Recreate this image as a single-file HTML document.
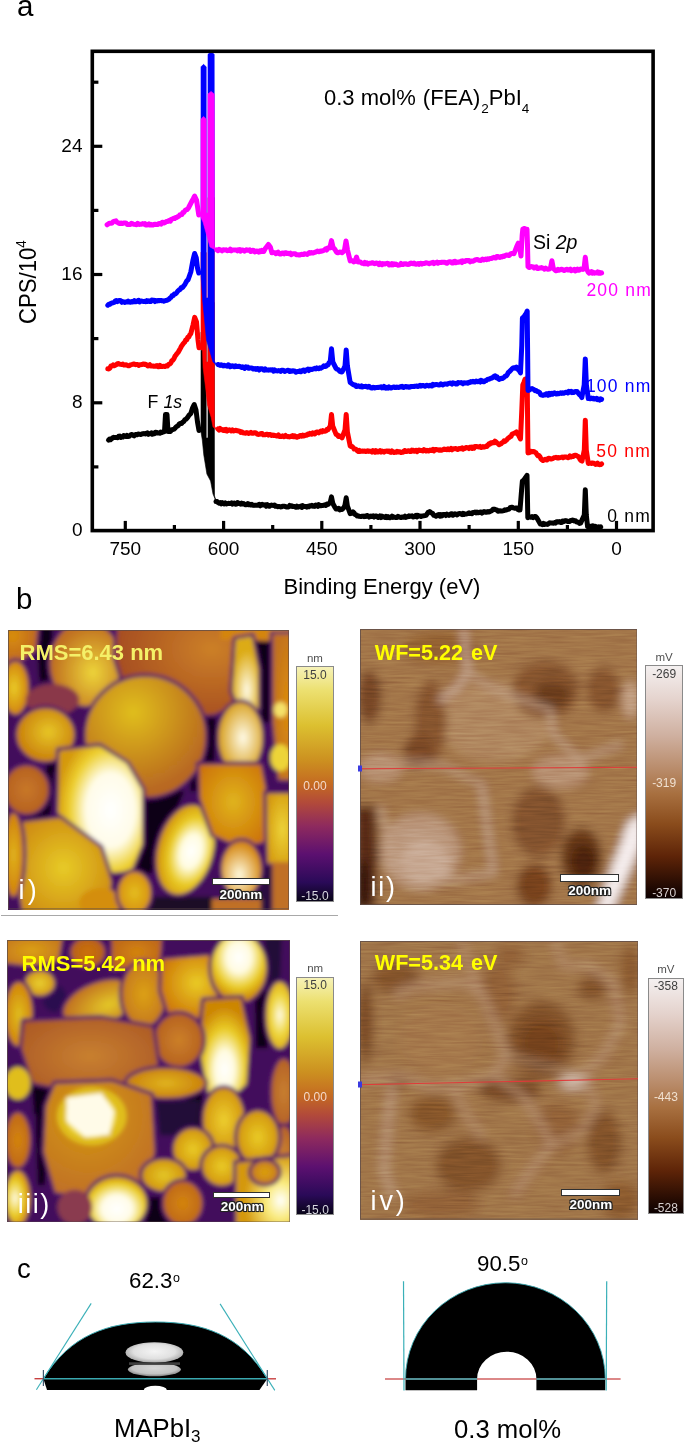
<!DOCTYPE html>
<html><head><meta charset="utf-8"><style>
html,body{margin:0;padding:0;background:#fff;}
body{width:685px;height:1442px;position:relative;overflow:hidden;font-family:"Liberation Sans", sans-serif;}
</style></head><body>
<svg width="685" height="610" viewBox="0 0 685 610" style="position:absolute;left:0;top:0"><polygon points="201.0,432.0 201.0,332.5 203.5,330.0 206.2,332.5 206.2,438.0 208.0,438.0 208.0,302.5 211.1,300.0 214.2,302.5 214.5,496.0 217.0,503.5 213.0,494.0 210.6,481.0 206.9,474.0 203.8,455.0 202.3,440.0 201.0,432.0" fill="#000" stroke="#000" stroke-width="0.6" stroke-linejoin="round"/><path d="M108.5,440.2 L109.5,439.0 L110.5,439.7 L111.5,438.9 L112.5,437.9 L113.5,437.3 L114.6,437.6 L115.6,437.4 L116.6,437.6 L117.6,437.7 L118.7,436.3 L119.7,436.1 L120.7,437.4 L121.8,436.5 L122.8,437.0 L123.8,435.5 L124.9,436.1 L125.9,436.5 L126.9,435.4 L127.9,436.6 L129.0,436.4 L130.0,435.5 L131.0,434.6 L132.0,434.4 L133.1,435.3 L134.1,435.9 L135.1,434.8 L136.1,434.4 L137.1,434.7 L138.1,433.9 L139.2,434.1 L140.2,434.4 L141.2,434.4 L142.2,433.8 L143.2,433.7 L144.2,433.6 L145.3,433.9 L146.3,433.5 L147.3,432.9 L148.3,434.3 L149.3,433.7 L150.3,433.8 L151.4,432.8 L152.4,434.2 L153.4,433.2 L154.4,433.7 L155.5,432.3 L156.5,432.5 L157.5,433.1 L158.6,432.9 L159.6,433.2 L160.6,432.1 L161.7,432.7 L162.7,432.0 L164.5,431.5 L165.5,414.5 L167.0,414.5 L168.0,431.6 L169.7,431.6 L170.8,431.1 L171.8,429.7 L172.8,429.5 L173.9,429.2 L174.9,428.4 L176.0,427.0 L177.1,426.2 L178.2,425.6 L179.3,423.8 L180.5,423.4 L181.6,423.6 L182.7,422.1 L183.8,421.5 L184.8,419.8 L185.8,419.3 L186.8,418.4 L187.8,417.2 L188.8,415.5 L189.8,414.4 L190.8,413.4 L192.5,408.0 L194.2,404.5 L196.0,410.0 L197.5,422.0 L199.0,430.5" fill="none" stroke="#000" stroke-width="5" stroke-linejoin="round" stroke-linecap="round"/><path d="M216.0,501.5 L217.1,501.6 L218.2,502.6 L219.3,503.2 L220.3,502.6 L221.3,503.8 L222.3,502.7 L223.3,503.3 L224.3,504.0 L225.3,503.0 L226.4,504.0 L227.4,503.6 L228.4,503.3 L229.4,503.4 L230.4,503.4 L231.4,502.9 L232.4,504.1 L233.4,503.2 L234.4,503.1 L235.5,504.2 L236.5,504.0 L237.5,502.6 L238.5,503.1 L239.6,503.6 L240.6,504.2 L241.6,503.2 L242.7,504.0 L243.7,503.6 L244.7,504.5 L245.8,504.8 L246.8,504.6 L247.8,503.6 L248.8,504.7 L249.9,504.2 L250.9,505.0 L251.9,504.4 L253.0,505.2 L254.0,505.4 L255.0,505.2 L256.0,505.3 L257.1,505.3 L258.1,505.0 L259.1,504.3 L260.2,505.8 L261.2,505.0 L262.2,504.2 L263.3,505.0 L264.3,505.1 L265.3,504.8 L266.3,506.2 L267.4,504.7 L268.4,505.5 L269.4,506.3 L270.4,505.7 L271.4,505.0 L272.5,505.4 L273.5,505.6 L274.5,505.1 L275.5,506.3 L276.5,506.1 L277.5,506.7 L278.5,506.5 L279.5,506.5 L280.6,506.9 L281.6,506.8 L282.6,506.3 L283.6,506.2 L284.6,506.2 L285.6,506.7 L286.6,507.0 L287.7,506.9 L288.7,506.9 L289.7,505.5 L290.7,506.2 L291.7,505.7 L292.7,506.6 L293.7,506.6 L294.7,506.6 L295.8,507.2 L296.8,506.1 L297.8,507.1 L298.8,506.7 L299.8,506.8 L300.8,506.1 L301.8,507.4 L302.8,505.7 L303.8,506.4 L304.8,506.4 L305.8,506.5 L306.8,507.1 L307.8,506.3 L308.8,506.8 L309.8,505.7 L310.8,506.0 L311.8,505.3 L312.8,506.2 L313.8,505.7 L314.8,506.3 L315.8,505.0 L316.8,505.6 L317.8,506.4 L318.8,504.7 L319.8,505.5 L320.8,505.7 L321.9,505.5 L322.9,505.5 L323.9,505.1 L324.9,504.8 L325.9,505.5 L327.0,504.1 L328.0,504.4 L329.1,503.6 L330.3,502.0 L331.5,496.9 L332.7,503.0 L333.8,505.3 L335.0,507.4 L336.1,509.0 L337.3,509.1 L338.5,508.3 L339.6,509.8 L340.8,509.0 L342.0,509.5 L343.0,508.5 L344.0,507.4 L345.0,505.0 L346.2,497.8 L347.4,506.0 L350.2,513.7 L351.6,513.3 L353.0,511.9 L354.0,512.8 L355.0,514.6 L356.0,514.8 L357.0,516.0 L358.0,515.7 L359.0,516.2 L360.0,516.4 L361.0,516.5 L362.0,516.3 L363.0,516.1 L364.0,516.7 L365.0,516.0 L366.0,516.5 L367.0,515.5 L368.0,515.8 L369.0,517.1 L370.0,516.5 L371.0,516.0 L372.0,516.4 L373.0,515.8 L374.0,517.1 L375.0,516.3 L376.0,515.9 L377.0,516.3 L378.0,517.5 L379.0,517.2 L380.0,515.9 L381.0,517.6 L382.0,516.1 L383.0,516.8 L384.0,517.0 L385.0,517.4 L386.0,516.3 L387.0,517.6 L388.0,516.6 L389.0,517.5 L390.0,517.8 L391.0,517.3 L392.0,516.2 L393.0,517.4 L394.0,517.1 L395.0,517.2 L396.0,517.6 L397.0,517.6 L398.0,516.3 L399.0,517.1 L400.0,517.2 L401.0,517.6 L402.0,517.0 L403.0,517.0 L404.0,517.2 L405.0,516.1 L406.0,517.3 L407.0,516.7 L408.0,516.8 L409.0,515.8 L410.0,516.4 L411.0,516.2 L412.0,515.8 L413.0,517.0 L414.0,516.8 L415.0,516.1 L416.0,515.3 L417.0,516.9 L418.0,515.3 L419.0,515.9 L420.0,516.0 L421.0,516.5 L422.0,516.0 L423.0,515.9 L424.0,515.7 L425.0,515.6 L426.0,515.4 L427.0,514.1 L428.0,512.5 L429.6,511.6 L431.5,513.0 L432.7,513.6 L433.8,515.3 L435.0,515.6 L436.0,516.3 L437.0,515.5 L438.0,514.7 L439.0,514.6 L440.0,516.2 L441.0,514.7 L442.0,515.8 L443.0,514.6 L444.0,514.6 L445.0,514.4 L446.0,515.5 L447.0,514.2 L448.0,514.8 L449.0,515.4 L450.0,514.8 L451.0,513.8 L452.0,513.8 L453.0,515.2 L454.0,514.2 L455.0,513.7 L456.0,514.5 L457.0,514.9 L458.0,513.9 L459.0,513.6 L460.0,513.6 L461.0,514.1 L462.0,514.6 L463.0,513.3 L464.0,514.4 L465.0,513.9 L466.0,514.1 L467.0,513.8 L468.0,513.4 L469.0,512.7 L470.0,513.5 L471.0,513.2 L472.0,513.6 L473.0,512.4 L474.0,512.5 L475.0,512.1 L476.0,512.9 L477.0,512.0 L478.0,512.8 L479.0,512.5 L480.0,512.2 L481.0,511.9 L482.0,513.1 L483.0,512.2 L484.0,511.5 L485.0,512.2 L486.0,512.0 L487.0,512.2 L488.0,511.5 L489.0,512.0 L490.0,511.6 L491.0,511.1 L492.0,510.5 L493.0,509.2 L494.0,509.5 L495.0,509.2 L496.0,509.9 L497.0,509.9 L498.0,511.2 L499.0,511.0 L500.0,510.8 L501.0,510.9 L502.0,510.9 L503.0,510.8 L504.0,510.6 L505.0,509.7 L506.0,510.1 L507.0,509.7 L508.1,509.2 L509.1,509.2 L510.2,507.6 L511.2,507.2 L512.3,507.3 L513.5,507.9 L514.8,508.2 L516.0,508.0 L517.0,508.0 L518.0,509.5 L519.0,510.0 L520.0,510.0 L521.6,490.0 L522.4,481.0 L523.5,480.3 L524.5,479.0 L525.8,477.1 L527.0,475.4 L527.4,495.0 L527.8,517.8 L528.8,516.7 L529.9,516.7 L531.0,517.3 L532.0,516.5 L533.2,517.6 L534.4,516.5 L535.6,516.6 L536.8,517.8 L540.3,524.0 L541.3,523.7 L542.3,524.6 L543.4,523.3 L544.4,524.5 L545.4,524.1 L546.5,524.2 L547.5,524.4 L548.5,523.7 L549.5,522.8 L550.5,523.1 L551.6,523.0 L552.6,523.1 L553.6,523.3 L554.6,522.6 L555.6,523.1 L556.6,521.7 L557.6,522.0 L558.6,521.8 L559.6,521.6 L560.6,522.5 L561.6,522.6 L562.6,521.1 L563.6,521.6 L564.6,520.7 L565.6,521.0 L566.6,520.7 L567.6,521.5 L568.6,521.6 L569.6,521.5 L570.6,520.4 L571.6,520.5 L572.6,520.0 L573.6,520.4 L574.6,521.1 L575.6,520.7 L576.6,522.0 L577.6,521.9 L578.6,522.4 L579.6,523.4 L580.6,523.1 L584.3,515.0 L585.3,489.8 L586.3,515.0 L587.6,526.6 L588.6,527.4 L589.6,526.2 L590.6,527.1 L591.6,526.3 L592.6,525.8 L593.6,527.4 L594.7,526.2 L595.7,526.4 L596.7,527.2 L597.7,527.5 L598.7,526.7 L599.7,527.3 L600.7,526.9" fill="none" stroke="#000" stroke-width="5" stroke-linejoin="round" stroke-linecap="round"/><polygon points="201.0,350.0 201.0,252.5 203.5,250.0 206.2,252.5 206.2,362.0 208.0,362.0 208.0,197.5 211.1,195.0 214.2,197.5 214.4,426.0 216.5,429.5 213.0,427.0 211.2,417.4 207.5,405.0 206.2,392.4 203.1,367.5 202.5,350.0" fill="#ff0000" stroke="#ff0000" stroke-width="0.6" stroke-linejoin="round"/><path d="M107.8,368.8 L108.8,368.9 L109.9,368.2 L111.0,365.9 L112.0,366.0 L113.1,364.9 L114.1,365.8 L115.2,365.2 L116.3,364.7 L117.3,363.7 L118.4,363.6 L119.5,364.1 L120.6,364.4 L121.8,364.6 L122.9,364.1 L124.0,365.0 L125.0,364.9 L126.1,364.8 L127.1,365.3 L128.2,365.8 L129.2,365.7 L130.2,364.9 L131.3,364.7 L132.3,364.4 L133.4,364.0 L134.4,363.9 L135.5,364.7 L136.5,364.4 L137.5,364.5 L138.6,365.4 L139.6,364.7 L140.7,364.7 L141.7,364.6 L142.7,364.2 L143.7,363.9 L144.7,364.5 L145.8,364.3 L146.8,365.0 L147.8,366.0 L148.8,365.5 L149.8,364.7 L150.8,366.0 L151.8,365.9 L152.8,365.9 L153.9,366.3 L154.9,366.1 L155.9,366.2 L156.9,365.5 L157.9,366.7 L158.9,366.8 L159.9,365.4 L160.9,366.5 L162.0,366.6 L163.0,366.2 L164.0,366.4 L165.0,366.4 L166.2,365.8 L167.3,366.0 L168.5,364.6 L169.7,364.0 L170.8,363.1 L171.8,360.7 L172.8,360.2 L173.9,358.7 L174.9,356.4 L176.0,355.0 L177.1,353.4 L178.2,352.3 L179.3,350.3 L180.5,348.1 L181.6,345.9 L182.7,344.4 L183.8,343.0 L184.8,342.0 L185.8,339.7 L186.8,339.7 L187.8,337.3 L188.8,337.1 L189.8,334.7 L190.8,333.7 L193.0,325.0 L194.7,317.4 L196.5,322.0 L198.0,340.0 L199.0,347.7" fill="none" stroke="#ff0000" stroke-width="5" stroke-linejoin="round" stroke-linecap="round"/><path d="M218.0,429.0 L219.0,430.0 L220.1,428.5 L221.1,429.8 L222.1,429.5 L223.1,430.4 L224.2,429.6 L225.2,430.6 L226.2,429.4 L227.2,431.0 L228.3,430.1 L229.3,429.8 L230.3,430.2 L231.3,430.9 L232.4,429.9 L233.4,430.9 L234.4,430.8 L235.5,430.3 L236.5,430.5 L237.5,430.8 L238.5,431.0 L239.6,431.2 L240.6,432.3 L241.6,431.7 L242.7,432.7 L243.7,432.9 L244.7,433.0 L245.8,433.2 L246.8,432.6 L247.8,432.9 L248.8,433.4 L249.9,433.0 L250.9,432.4 L251.9,433.2 L253.0,433.3 L254.0,432.8 L255.0,432.8 L256.0,433.0 L257.1,434.1 L258.1,434.4 L259.1,434.3 L260.2,434.0 L261.2,433.4 L262.2,433.5 L263.3,434.8 L264.3,434.7 L265.3,434.7 L266.3,434.3 L267.4,434.3 L268.4,435.1 L269.4,434.6 L270.4,434.5 L271.4,435.4 L272.5,435.0 L273.5,435.5 L274.5,435.3 L275.5,435.6 L276.5,436.0 L277.5,436.1 L278.5,435.0 L279.5,436.5 L280.6,436.4 L281.6,436.4 L282.6,435.8 L283.6,436.7 L284.6,436.5 L285.6,435.5 L286.6,436.4 L287.7,436.7 L288.7,436.6 L289.7,436.9 L290.7,436.3 L291.7,436.6 L292.7,435.6 L293.7,436.7 L294.7,435.8 L295.8,436.9 L296.8,437.3 L297.8,436.4 L298.8,436.7 L299.8,435.7 L300.8,435.4 L301.8,436.1 L302.8,435.2 L303.8,436.0 L304.8,435.6 L305.8,435.1 L306.8,435.2 L307.8,434.1 L308.8,434.4 L309.8,433.4 L310.8,434.1 L311.8,434.3 L312.8,432.9 L313.8,433.7 L314.8,434.0 L315.8,432.6 L316.8,432.1 L317.8,432.0 L318.8,432.8 L319.8,432.0 L320.8,431.0 L321.9,431.9 L322.9,430.7 L323.9,431.3 L324.9,431.3 L325.9,430.9 L327.0,429.4 L328.0,429.7 L329.1,427.9 L330.3,426.0 L331.5,414.5 L332.7,426.0 L336.1,434.4 L337.3,434.8 L338.5,436.5 L339.6,436.1 L340.8,436.6 L342.0,437.9 L345.0,430.0 L346.2,414.5 L347.4,432.0 L350.2,446.0 L351.2,446.5 L352.2,446.6 L353.2,447.5 L354.2,449.1 L355.2,449.0 L356.2,449.5 L357.2,450.7 L358.3,451.5 L359.3,450.4 L360.4,451.4 L361.5,451.2 L362.5,451.0 L363.6,451.2 L364.7,451.1 L365.7,451.6 L366.8,451.4 L367.9,450.7 L368.9,451.4 L370.0,451.2 L371.0,451.2 L372.0,452.0 L373.0,450.6 L374.0,451.2 L375.0,452.2 L376.0,450.6 L377.0,451.8 L378.0,452.1 L379.0,451.6 L380.0,450.7 L381.0,452.0 L382.0,451.1 L383.0,451.6 L384.0,452.2 L385.0,451.3 L386.0,451.2 L387.0,451.0 L388.0,451.4 L389.0,451.0 L390.0,452.1 L391.0,452.4 L392.0,451.0 L393.0,451.9 L394.0,452.4 L395.0,451.9 L396.0,452.3 L397.0,451.4 L398.0,451.8 L399.0,452.0 L400.0,451.7 L401.0,452.5 L402.0,452.3 L403.0,452.3 L404.0,450.8 L405.0,450.5 L406.0,451.5 L407.0,451.4 L408.0,450.8 L409.0,450.7 L410.0,451.6 L411.0,451.6 L412.0,450.1 L413.0,450.3 L414.0,451.3 L415.0,450.7 L416.0,450.2 L417.0,451.6 L418.0,450.4 L419.0,449.9 L420.0,450.5 L421.0,450.4 L422.0,450.8 L423.0,450.9 L424.0,449.7 L425.0,450.3 L426.0,451.0 L427.0,450.2 L428.0,450.9 L429.0,450.9 L430.0,450.1 L431.0,450.6 L432.0,450.3 L433.0,449.3 L434.0,450.8 L435.0,449.5 L436.0,449.5 L437.0,449.8 L438.0,449.8 L439.0,450.2 L440.0,449.7 L441.0,450.3 L442.0,450.0 L443.0,449.7 L444.0,449.0 L445.0,449.6 L446.0,449.3 L447.0,449.7 L448.0,448.8 L449.0,449.7 L450.0,449.5 L451.0,448.5 L452.0,449.8 L453.0,449.0 L454.0,448.8 L455.0,448.6 L456.0,448.6 L457.0,449.3 L458.0,449.5 L459.0,448.6 L460.0,448.7 L461.0,448.5 L462.0,447.9 L463.0,449.2 L464.0,448.3 L465.0,448.4 L466.0,447.4 L467.0,447.7 L468.0,447.7 L469.0,448.5 L470.0,447.3 L471.0,447.1 L472.0,448.4 L473.0,447.2 L474.0,448.2 L475.0,446.4 L476.0,446.5 L477.0,446.6 L478.0,446.8 L479.0,446.9 L480.0,446.4 L481.0,447.5 L482.0,447.3 L483.0,446.6 L484.0,447.2 L485.0,446.9 L486.0,446.1 L487.0,446.4 L488.0,445.2 L489.0,443.8 L490.0,444.2 L491.0,442.7 L492.0,443.0 L493.0,442.2 L494.0,442.7 L495.0,441.2 L496.0,441.8 L497.0,443.1 L498.0,443.5 L499.0,444.7 L500.0,444.2 L501.0,443.9 L502.0,442.7 L503.0,442.3 L504.0,440.9 L505.0,441.4 L506.0,440.5 L507.0,439.6 L508.0,438.3 L509.0,437.7 L510.0,436.7 L511.0,436.6 L512.0,434.2 L513.0,433.7 L514.0,433.3 L515.2,432.8 L516.4,431.9 L517.5,434.0 L518.5,435.0 L519.5,437.1 L520.5,439.0 L521.8,410.0 L522.8,385.0 L523.9,382.4 L525.0,379.3 L526.1,378.8 L527.2,380.0 L527.6,420.0 L528.0,452.9 L529.0,452.7 L530.0,452.4 L531.0,451.3 L532.0,451.8 L533.0,451.5 L534.0,451.5 L535.0,452.2 L536.0,452.9 L537.0,454.6 L538.0,455.8 L539.0,455.5 L540.0,456.8 L541.0,459.0 L542.0,459.9 L543.0,460.5 L544.0,459.9 L545.0,459.2 L546.0,459.8 L547.0,460.0 L548.0,458.4 L549.0,458.2 L550.0,458.8 L551.0,459.1 L552.0,458.7 L553.0,458.5 L554.0,457.8 L555.0,457.6 L556.0,457.3 L557.0,457.9 L558.0,457.4 L559.0,457.9 L560.0,457.6 L561.0,457.4 L562.0,457.1 L563.0,457.8 L564.0,456.9 L565.0,457.1 L566.0,457.0 L567.0,457.3 L568.0,457.7 L569.0,457.2 L570.0,455.8 L571.0,457.0 L572.0,456.5 L573.0,456.6 L574.0,455.4 L575.0,455.3 L576.0,455.2 L577.0,456.0 L578.0,456.3 L579.0,457.3 L580.0,459.4 L581.0,460.6 L582.0,461.1 L584.3,450.0 L585.3,420.2 L586.3,450.0 L588.3,463.4 L589.3,463.3 L590.3,463.0 L591.4,463.4 L592.4,462.9 L593.4,463.1 L594.4,463.5 L595.5,464.4 L596.5,464.1 L597.5,463.1 L598.5,464.3 L599.6,464.7 L600.6,464.6 L601.6,463.9" fill="none" stroke="#ff0000" stroke-width="5" stroke-linejoin="round" stroke-linecap="round"/><polygon points="201.0,275.0 201.0,66.8 203.5,64.3 206.2,66.8 206.2,298.0 208.0,298.0 208.0,54.3 211.1,51.8 214.2,54.3 214.4,361.0 216.5,365.0 213.0,362.0 206.5,340.0 202.6,300.0 201.0,275.0" fill="#0000ff" stroke="#0000ff" stroke-width="0.6" stroke-linejoin="round"/><path d="M107.8,305.2 L108.8,304.2 L109.9,304.2 L111.0,303.3 L112.0,303.0 L113.1,302.8 L114.1,302.4 L115.2,301.0 L116.3,300.5 L117.3,301.6 L118.4,300.6 L119.5,300.4 L120.6,300.7 L121.8,302.3 L122.9,301.7 L124.0,302.0 L125.0,302.5 L126.1,301.8 L127.1,302.1 L128.2,301.1 L129.2,301.9 L130.2,302.3 L131.3,301.6 L132.3,302.0 L133.4,301.8 L134.4,300.6 L135.5,301.8 L136.5,301.5 L137.5,300.9 L138.6,300.3 L139.6,301.8 L140.7,301.0 L141.7,301.0 L142.7,301.4 L143.7,301.6 L144.7,301.3 L145.8,301.7 L146.8,300.7 L147.8,301.4 L148.8,300.8 L149.8,301.6 L150.8,301.5 L151.8,300.1 L152.8,300.2 L153.9,300.3 L154.9,301.6 L155.9,300.6 L156.9,301.0 L157.9,300.4 L158.9,300.7 L159.9,300.5 L160.9,300.4 L162.0,300.8 L163.0,300.8 L164.0,301.3 L165.0,300.6 L166.0,300.4 L167.0,300.3 L168.0,299.7 L169.0,299.4 L170.0,298.0 L171.1,297.3 L172.2,295.4 L173.3,295.6 L174.4,294.0 L175.6,293.8 L176.7,292.7 L177.8,291.1 L179.0,290.0 L180.2,289.3 L181.4,287.4 L182.6,287.4 L183.8,285.8 L184.9,284.5 L185.9,282.5 L186.9,280.7 L188.0,280.0 L190.8,272.0 L193.0,260.0 L194.6,253.5 L196.3,258.0 L197.5,268.0 L198.8,273.0" fill="none" stroke="#0000ff" stroke-width="5" stroke-linejoin="round" stroke-linecap="round"/><path d="M218.0,364.5 L219.0,364.8 L220.1,365.4 L221.1,364.8 L222.1,365.3 L223.1,365.9 L224.2,365.2 L225.2,365.7 L226.2,365.8 L227.2,366.2 L228.3,364.8 L229.3,365.2 L230.3,366.8 L231.3,366.4 L232.4,365.7 L233.4,366.2 L234.4,366.8 L235.5,365.8 L236.5,366.3 L237.5,366.6 L238.5,366.3 L239.6,366.3 L240.6,367.0 L241.6,367.4 L242.7,366.9 L243.7,367.7 L244.7,368.4 L245.8,366.8 L246.8,367.3 L247.8,367.1 L248.8,368.3 L249.9,367.9 L250.9,368.1 L251.9,367.9 L253.0,368.9 L254.0,369.0 L255.0,368.6 L256.0,369.4 L257.1,368.4 L258.1,368.7 L259.1,370.0 L260.2,368.8 L261.2,368.7 L262.2,368.7 L263.3,369.9 L264.3,370.3 L265.3,369.0 L266.3,369.9 L267.4,369.9 L268.4,370.2 L269.4,369.9 L270.4,369.8 L271.4,370.1 L272.5,369.7 L273.5,371.2 L274.5,369.9 L275.5,370.6 L276.5,370.8 L277.5,370.9 L278.5,370.6 L279.5,370.8 L280.6,371.5 L281.6,370.2 L282.6,370.3 L283.6,370.5 L284.6,371.4 L285.6,370.9 L286.6,370.8 L287.7,370.3 L288.7,370.5 L289.7,371.5 L290.7,370.7 L291.7,371.2 L292.7,370.8 L293.7,371.0 L294.7,370.9 L295.8,372.2 L296.8,371.7 L297.8,371.5 L298.8,371.6 L299.8,370.9 L300.8,371.8 L301.8,371.2 L302.8,370.2 L303.8,370.1 L304.8,371.3 L305.8,370.0 L306.8,370.0 L307.8,369.2 L308.8,370.5 L309.8,369.2 L310.8,369.5 L311.8,369.6 L312.8,369.1 L313.8,368.7 L314.8,368.3 L315.8,368.9 L316.8,367.9 L317.8,368.4 L318.8,368.8 L319.8,367.8 L320.8,368.2 L321.9,367.4 L322.9,366.9 L323.9,365.8 L324.9,366.6 L325.9,366.4 L327.0,365.1 L328.0,365.0 L329.1,362.7 L330.2,362.0 L331.5,348.7 L332.8,362.0 L336.1,368.5 L337.3,369.3 L338.5,369.8 L339.6,371.2 L340.8,371.8 L342.0,372.0 L343.0,369.9 L344.0,368.1 L345.0,366.0 L346.2,349.9 L347.4,366.0 L350.2,382.6 L351.2,383.1 L352.2,384.0 L353.2,384.5 L354.2,385.1 L355.2,384.9 L356.2,386.5 L357.2,386.5 L358.3,385.8 L359.3,386.2 L360.4,386.8 L361.5,385.9 L362.5,387.0 L363.6,386.5 L364.7,386.6 L365.7,386.2 L366.8,386.8 L367.9,387.2 L368.9,386.3 L370.0,387.2 L371.0,387.8 L372.0,388.1 L373.0,387.3 L374.0,387.4 L375.0,387.9 L376.0,387.6 L377.0,387.6 L378.0,387.3 L379.0,387.4 L380.0,387.1 L381.0,386.7 L382.0,387.9 L383.0,387.7 L384.0,386.5 L385.0,387.9 L386.0,388.3 L387.0,387.3 L388.0,388.2 L389.0,387.0 L390.0,387.8 L391.0,388.1 L392.0,387.4 L393.0,387.2 L394.0,386.9 L395.0,387.6 L396.0,387.6 L397.0,387.1 L398.0,387.4 L399.0,387.5 L400.0,386.8 L401.0,387.0 L402.0,386.3 L403.0,387.4 L404.0,387.4 L405.0,386.6 L406.0,386.4 L407.0,387.1 L408.0,386.7 L409.0,387.3 L410.0,387.1 L411.0,386.5 L412.0,386.4 L413.0,386.6 L414.0,386.5 L415.0,386.2 L416.0,386.3 L417.0,385.9 L418.0,386.4 L419.0,386.0 L420.0,385.3 L421.0,386.1 L422.0,385.5 L423.0,385.5 L424.0,385.8 L425.0,386.3 L426.0,385.4 L427.0,385.3 L428.0,385.7 L429.0,386.0 L430.0,385.3 L431.0,385.8 L432.0,386.0 L433.0,384.3 L434.0,385.1 L435.0,384.7 L436.0,384.6 L437.0,384.5 L438.0,384.9 L439.0,385.1 L440.0,384.9 L441.0,383.8 L442.0,384.4 L443.0,385.0 L444.0,384.1 L445.0,383.9 L446.0,383.9 L447.0,384.3 L448.0,383.7 L449.0,383.4 L450.0,383.1 L451.0,383.2 L452.0,384.1 L453.0,382.9 L454.0,383.3 L455.0,383.2 L456.0,384.1 L457.0,384.0 L458.0,382.6 L459.0,382.7 L460.0,382.8 L461.0,382.6 L462.0,383.1 L463.0,383.8 L464.0,382.8 L465.0,382.9 L466.0,383.1 L467.0,382.7 L468.0,383.3 L469.0,382.3 L470.0,382.6 L471.0,381.6 L472.0,381.9 L473.0,381.2 L474.0,381.9 L475.0,382.0 L476.1,381.1 L477.1,381.6 L478.1,381.8 L479.1,381.1 L480.1,382.0 L481.1,380.4 L482.1,380.8 L483.1,381.8 L484.1,381.7 L485.1,380.7 L486.1,380.6 L487.3,379.5 L488.5,379.3 L489.6,378.9 L490.8,378.3 L492.0,378.0 L493.0,377.2 L494.0,376.3 L495.0,375.9 L496.0,377.5 L497.0,376.8 L498.0,378.5 L499.1,379.4 L500.2,379.0 L501.2,378.2 L502.2,378.6 L503.2,377.9 L504.2,377.3 L505.2,376.0 L506.2,376.0 L507.2,374.7 L508.2,372.6 L509.3,371.8 L510.5,370.5 L511.8,369.1 L513.0,367.9 L514.2,367.7 L515.3,368.2 L516.4,367.1 L517.5,368.3 L518.5,370.0 L519.5,371.0 L520.5,373.0 L521.8,345.0 L522.4,318.0 L523.7,317.2 L525.0,315.0 L526.1,313.6 L527.2,311.0 L527.6,350.0 L528.0,390.4 L529.0,390.3 L530.0,389.5 L531.0,388.9 L532.0,388.6 L533.0,389.0 L534.1,389.7 L535.1,390.7 L536.2,390.4 L537.4,391.6 L538.5,391.8 L539.7,392.6 L540.8,394.8 L542.0,395.1 L543.0,395.4 L544.1,394.8 L545.1,394.9 L546.2,393.8 L547.2,393.8 L548.2,395.2 L549.3,393.4 L550.3,394.6 L551.4,393.4 L552.4,394.2 L553.4,393.1 L554.5,392.8 L555.5,393.7 L556.5,394.1 L557.6,393.2 L558.6,393.8 L559.7,393.2 L560.7,392.8 L561.7,393.4 L562.8,392.8 L563.8,393.3 L564.8,392.8 L565.8,392.3 L566.9,392.2 L567.9,392.9 L568.9,391.4 L569.9,392.1 L571.0,391.3 L572.0,392.6 L573.0,392.0 L574.0,392.4 L575.1,391.5 L576.1,391.6 L577.1,391.6 L578.3,393.2 L579.5,394.7 L580.6,395.5 L581.8,397.5 L584.2,385.0 L585.3,358.9 L586.4,385.0 L588.3,398.6 L589.3,397.9 L590.3,398.7 L591.4,398.1 L592.4,398.8 L593.4,398.2 L594.4,399.1 L595.5,399.0 L596.5,398.4 L597.5,399.6 L598.5,399.1 L599.6,400.0 L600.6,398.9 L601.6,399.3" fill="none" stroke="#0000ff" stroke-width="5" stroke-linejoin="round" stroke-linecap="round"/><polygon points="201.0,218.0 201.0,118.9 203.5,116.4 206.2,118.9 206.2,213.0 208.0,213.0 208.0,93.9 211.1,91.4 214.2,93.9 214.4,246.0 216.5,250.5 210.0,247.0 203.0,222.0 201.0,218.0" fill="#ff00ff" stroke="#ff00ff" stroke-width="0.6" stroke-linejoin="round"/><path d="M107.1,224.8 L108.3,223.9 L109.5,223.2 L110.8,223.3 L112.0,223.0 L113.0,221.9 L114.0,221.2 L115.0,221.2 L116.0,220.9 L117.0,222.3 L118.0,222.7 L119.0,223.3 L120.0,223.5 L121.0,223.0 L122.1,223.6 L123.1,223.2 L124.1,223.0 L125.2,223.0 L126.2,223.2 L127.2,224.5 L128.3,224.4 L129.3,224.4 L130.3,224.4 L131.4,223.3 L132.4,223.6 L133.4,224.2 L134.5,224.4 L135.5,224.6 L136.5,224.7 L137.6,223.3 L138.6,224.3 L139.6,224.4 L140.7,224.2 L141.7,224.2 L142.7,223.6 L143.7,224.2 L144.8,223.5 L145.8,225.0 L146.8,224.9 L147.8,224.4 L148.8,223.9 L149.8,225.0 L150.9,224.4 L151.9,225.0 L152.9,225.0 L153.9,224.4 L154.9,224.2 L156.0,224.6 L157.0,224.3 L158.0,224.4 L159.0,223.5 L160.0,223.5 L161.0,224.1 L162.0,222.5 L163.0,222.2 L164.0,223.0 L165.0,222.5 L166.1,221.6 L167.1,221.6 L168.2,221.1 L169.3,220.4 L170.4,221.1 L171.4,219.2 L172.5,219.1 L173.6,218.3 L174.7,218.6 L175.7,217.5 L176.8,217.4 L177.8,216.4 L178.8,216.4 L179.8,215.0 L180.8,214.7 L181.8,214.6 L182.8,212.5 L183.8,212.5 L185.0,210.6 L186.1,209.8 L187.2,209.6 L188.4,208.0 L192.0,201.0 L193.3,198.7 L194.6,196.0 L196.5,200.0 L198.8,215.0" fill="none" stroke="#ff00ff" stroke-width="5" stroke-linejoin="round" stroke-linecap="round"/><path d="M217.0,250.0 L218.0,250.7 L219.1,249.3 L220.1,250.1 L221.1,249.9 L222.1,250.8 L223.2,249.7 L224.2,249.9 L225.2,250.1 L226.2,249.7 L227.2,250.7 L228.3,250.6 L229.3,250.3 L230.3,249.1 L231.3,250.8 L232.4,250.0 L233.4,249.9 L234.4,250.1 L235.4,250.1 L236.4,250.1 L237.4,250.9 L238.4,249.8 L239.5,249.6 L240.5,251.2 L241.5,249.9 L242.5,250.0 L243.5,250.3 L244.5,251.2 L245.5,250.3 L246.5,249.7 L247.5,250.2 L248.6,250.2 L249.6,249.9 L250.6,251.5 L251.6,251.3 L252.6,250.3 L253.6,250.5 L254.6,251.9 L255.6,251.4 L256.6,251.0 L257.6,251.3 L258.6,252.1 L259.7,250.8 L260.7,251.6 L261.7,250.5 L262.7,251.4 L263.7,251.5 L265.1,248.8 L266.5,247.0 L268.4,244.5 L270.3,247.0 L271.9,252.7 L272.9,252.5 L273.9,252.6 L274.9,252.8 L276.0,253.7 L277.0,252.8 L278.0,252.2 L279.0,253.7 L280.0,254.0 L281.0,253.9 L282.1,252.9 L283.1,253.1 L284.1,253.9 L285.1,252.7 L286.1,252.8 L287.1,253.6 L288.2,253.2 L289.2,253.7 L290.2,253.2 L291.2,254.7 L292.2,253.9 L293.2,253.7 L294.3,253.7 L295.3,253.7 L296.3,254.7 L297.3,254.8 L298.3,254.8 L299.3,255.1 L300.4,254.6 L301.4,254.3 L302.4,254.4 L303.4,254.6 L304.4,253.7 L305.4,253.9 L306.4,253.9 L307.4,254.4 L308.4,253.6 L309.4,252.5 L310.4,253.1 L311.4,252.5 L312.4,253.1 L313.4,253.0 L314.5,252.3 L315.5,252.2 L316.5,251.5 L317.5,251.1 L318.5,251.8 L319.5,251.5 L320.5,250.9 L321.5,251.3 L322.5,250.9 L323.5,250.5 L324.5,249.9 L325.6,248.8 L326.6,250.0 L327.7,248.0 L328.7,247.8 L329.8,248.0 L331.5,240.6 L333.2,248.0 L334.2,248.5 L335.2,249.8 L336.3,251.9 L337.3,252.7 L338.5,252.8 L339.6,252.0 L340.8,252.2 L342.0,252.7 L343.2,251.8 L344.5,250.0 L346.0,241.0 L347.5,250.0 L350.2,260.9 L351.4,260.7 L352.6,260.7 L353.8,261.9 L355.0,261.5 L356.5,257.0 L358.0,262.0 L359.3,262.0 L360.5,262.1 L361.8,263.2 L362.8,263.3 L363.8,263.7 L364.8,262.4 L365.8,263.6 L366.8,262.8 L367.8,264.1 L368.8,263.4 L369.8,263.2 L370.9,263.2 L371.9,262.8 L372.9,262.8 L373.9,263.6 L374.9,263.7 L375.9,263.1 L376.9,263.1 L377.9,263.7 L378.9,264.6 L379.9,263.1 L380.9,264.2 L381.9,264.7 L382.9,263.6 L383.9,263.8 L384.9,264.1 L385.9,263.6 L387.0,263.3 L388.0,263.5 L389.0,264.9 L390.0,264.1 L391.0,264.9 L392.0,263.7 L393.0,264.8 L394.0,263.9 L395.0,264.4 L396.0,264.1 L397.0,264.8 L398.0,265.2 L399.0,265.1 L400.0,264.8 L401.0,263.5 L402.0,264.4 L403.0,264.5 L404.0,263.7 L405.0,264.1 L406.0,263.7 L407.0,264.3 L408.0,264.4 L409.0,264.3 L410.0,263.4 L411.0,263.0 L412.0,263.4 L413.0,263.8 L414.0,263.0 L415.0,264.1 L416.0,264.2 L417.0,264.0 L418.0,263.6 L419.0,264.4 L420.0,263.5 L421.0,263.3 L422.0,264.1 L423.0,263.6 L424.0,263.5 L425.0,263.3 L426.0,262.8 L427.0,262.9 L428.0,263.1 L429.0,263.8 L430.0,263.2 L431.0,263.0 L432.0,262.8 L433.0,262.4 L434.0,263.6 L435.0,262.7 L436.0,262.7 L437.0,262.1 L438.0,263.2 L439.0,262.5 L440.0,262.4 L441.0,262.5 L442.0,262.2 L443.0,262.4 L444.0,262.2 L445.0,262.2 L446.0,263.0 L447.0,263.2 L448.0,262.4 L449.0,261.7 L450.0,261.7 L451.0,261.9 L452.0,262.9 L453.0,263.0 L454.0,261.4 L455.0,261.3 L456.0,262.8 L457.0,262.4 L458.0,261.9 L459.0,262.2 L460.0,261.9 L461.0,261.2 L462.0,262.5 L463.0,260.9 L464.0,261.4 L465.0,261.6 L466.0,260.6 L467.1,260.5 L468.1,260.7 L469.1,260.5 L470.2,261.8 L471.2,261.0 L472.2,261.0 L473.3,261.2 L474.3,260.6 L475.3,259.8 L476.4,259.8 L477.4,259.4 L478.4,259.9 L479.4,260.4 L480.5,260.6 L481.5,259.9 L482.5,259.0 L483.6,260.0 L484.6,259.5 L485.6,259.1 L486.7,259.6 L487.7,258.7 L488.7,259.3 L489.8,258.5 L490.8,258.5 L491.8,258.4 L492.9,257.7 L493.9,257.3 L494.9,258.0 L495.9,258.0 L496.9,256.4 L498.0,256.5 L499.0,257.3 L500.0,257.4 L501.1,256.5 L502.1,256.9 L503.1,256.0 L504.1,256.5 L505.1,255.5 L506.2,255.1 L507.2,255.0 L508.3,255.4 L509.5,255.4 L510.6,253.8 L511.7,253.5 L512.9,253.6 L514.0,253.7 L516.5,247.0 L518.2,243.2 L520.0,250.0 L521.0,256.0 L522.2,235.0 L522.8,229.2 L523.8,228.6 L524.9,228.6 L526.0,229.2 L527.0,229.2 L527.5,245.0 L528.0,266.6 L529.0,267.6 L530.1,267.4 L531.1,266.6 L532.2,266.7 L533.2,266.9 L534.2,268.0 L535.3,267.2 L536.3,266.9 L537.4,268.5 L538.4,268.5 L539.4,268.1 L540.5,268.0 L541.5,267.6 L542.5,268.3 L543.6,268.2 L544.6,269.2 L545.7,268.2 L546.7,268.9 L548.0,269.2 L549.2,269.1 L550.5,268.0 L551.9,260.7 L553.3,268.5 L554.9,270.0 L555.9,270.8 L556.9,270.6 L558.0,269.3 L559.0,270.3 L560.0,269.9 L561.0,269.2 L562.0,269.2 L563.1,270.1 L564.1,270.6 L565.1,270.0 L566.1,269.4 L567.1,269.2 L568.2,270.1 L569.2,269.7 L570.2,269.2 L571.2,270.7 L572.3,269.9 L573.3,270.3 L574.3,269.3 L575.3,270.9 L576.3,270.2 L577.4,269.2 L578.4,270.3 L579.4,270.0 L580.5,268.9 L581.7,269.1 L582.9,269.4 L584.0,269.0 L585.3,257.2 L586.6,269.0 L588.3,272.4 L589.3,273.2 L590.3,272.6 L591.4,271.7 L592.4,273.2 L593.4,272.3 L594.4,273.2 L595.5,272.7 L596.5,272.9 L597.5,272.0 L598.5,273.2 L599.6,272.4 L600.6,273.3 L601.6,272.9" fill="none" stroke="#ff00ff" stroke-width="5" stroke-linejoin="round" stroke-linecap="round"/><rect x="92.3" y="51.3" width="560.8" height="479.3" fill="none" stroke="#000" stroke-width="3.6"/><line x1="94" y1="402.8" x2="102.3" y2="402.8" stroke="#000" stroke-width="3.2"/><line x1="94" y1="274.5" x2="102.3" y2="274.5" stroke="#000" stroke-width="3.2"/><line x1="94" y1="146.3" x2="102.3" y2="146.3" stroke="#000" stroke-width="3.2"/><line x1="94" y1="466.9" x2="98.4" y2="466.9" stroke="#000" stroke-width="3.2"/><line x1="94" y1="338.6" x2="98.4" y2="338.6" stroke="#000" stroke-width="3.2"/><line x1="94" y1="210.4" x2="98.4" y2="210.4" stroke="#000" stroke-width="3.2"/><line x1="94" y1="82.2" x2="98.4" y2="82.2" stroke="#000" stroke-width="3.2"/><line x1="125.3" y1="529" x2="125.3" y2="520.9" stroke="#000" stroke-width="3.2"/><line x1="223.6" y1="529" x2="223.6" y2="520.9" stroke="#000" stroke-width="3.2"/><line x1="321.8" y1="529" x2="321.8" y2="520.9" stroke="#000" stroke-width="3.2"/><line x1="420.0" y1="529" x2="420.0" y2="520.9" stroke="#000" stroke-width="3.2"/><line x1="518.3" y1="529" x2="518.3" y2="520.9" stroke="#000" stroke-width="3.2"/><line x1="616.5" y1="529" x2="616.5" y2="520.9" stroke="#000" stroke-width="3.2"/><line x1="174.4" y1="529" x2="174.4" y2="525" stroke="#000" stroke-width="3.2"/><line x1="272.7" y1="529" x2="272.7" y2="525" stroke="#000" stroke-width="3.2"/><line x1="370.9" y1="529" x2="370.9" y2="525" stroke="#000" stroke-width="3.2"/><line x1="469.1" y1="529" x2="469.1" y2="525" stroke="#000" stroke-width="3.2"/><line x1="567.4" y1="529" x2="567.4" y2="525" stroke="#000" stroke-width="3.2"/></svg>
<div style="position:absolute;left:17px;top:-9px;font-size:29.5px;color:#000;white-space:nowrap;line-height:1;">a</div><div style="position:absolute;left:16px;top:584px;font-size:29.5px;color:#000;white-space:nowrap;line-height:1;">b</div><div style="position:absolute;left:17px;top:1254.6px;font-size:27.5px;color:#000;white-space:nowrap;line-height:1;">c</div><div style="position:absolute;right:602.5px;top:520.4px;font-size:19px;line-height:1;white-space:nowrap">0</div><div style="position:absolute;right:602.5px;top:392.2px;font-size:19px;line-height:1;white-space:nowrap">8</div><div style="position:absolute;right:602.5px;top:263.9px;font-size:19px;line-height:1;white-space:nowrap">16</div><div style="position:absolute;right:602.5px;top:135.7px;font-size:19px;line-height:1;white-space:nowrap">24</div><div style="position:absolute;left:85.3px;width:80px;text-align:center;top:539px;font-size:19px;line-height:1">750</div><div style="position:absolute;left:183.6px;width:80px;text-align:center;top:539px;font-size:19px;line-height:1">600</div><div style="position:absolute;left:281.8px;width:80px;text-align:center;top:539px;font-size:19px;line-height:1">450</div><div style="position:absolute;left:380.0px;width:80px;text-align:center;top:539px;font-size:19px;line-height:1">300</div><div style="position:absolute;left:478.3px;width:80px;text-align:center;top:539px;font-size:19px;line-height:1">150</div><div style="position:absolute;left:576.5px;width:80px;text-align:center;top:539px;font-size:19px;line-height:1">0</div><div style="position:absolute;left:283.5px;top:576px;font-size:22px;color:#000;white-space:nowrap;line-height:1;">Binding Energy (eV)</div><div style="position:absolute;left:16.5px;top:324px;transform-origin:0 0;transform:rotate(-90deg) scaleX(0.955);font-size:23.2px;line-height:1;white-space:nowrap">CPS/10<sup style="font-size:14px;vertical-align:0;position:relative;top:-10px">4</sup></div><div style="position:absolute;left:324px;top:86.5px;font-size:22px;color:#000;white-space:nowrap;line-height:1;">0.3 mol%&nbsp;<span style="margin-left:1px"></span>(FEA)<sub style="font-size:13.5px;vertical-align:0;position:relative;top:8.3px;margin-left:1px">2</sub>PbI<sub style="font-size:13.5px;vertical-align:0;position:relative;top:8.3px;margin-left:0px">4</sub></div><div style="position:absolute;left:533px;top:233px;font-size:19.5px;color:#000;white-space:nowrap;line-height:1;">Si <i>2p</i></div><div style="position:absolute;left:147.6px;top:393.5px;font-size:17.8px;color:#000;white-space:nowrap;line-height:1;">F <i>1s</i></div><div style="position:absolute;right:33px;top:281.5px;font-size:17.5px;letter-spacing:1.2px;color:#ff00ff;white-space:nowrap;line-height:1">200 nm</div><div style="position:absolute;right:33.5px;top:377.8px;font-size:17.5px;letter-spacing:1.2px;color:#0000ff;white-space:nowrap;line-height:1">100 nm</div><div style="position:absolute;right:34px;top:442.6px;font-size:17.5px;letter-spacing:1.2px;color:#ff0000;white-space:nowrap;line-height:1">50 nm</div><div style="position:absolute;right:34px;top:507.5px;font-size:17.5px;letter-spacing:1.2px;color:#000;white-space:nowrap;line-height:1">0 nm</div>
<svg style="position:absolute;left:7.5px;top:630.2px" width="281.2" height="279.4" viewBox="7.5 630.2 281.2 279.4"><defs><filter id="f1" x="-10%" y="-10%" width="120%" height="120%"><feGaussianBlur stdDeviation="2.3"/></filter><radialGradient id="f1g8" cx="0.3" cy="0.3" r="0.6" fx="0.3" fy="0.3"><stop offset="0" stop-color="#d88e0c"/><stop offset="1" stop-color="#c06a20"/></radialGradient><radialGradient id="f1g9" cx="0.45" cy="0.5" r="0.6" fx="0.45" fy="0.5"><stop offset="0" stop-color="#e9cb26"/><stop offset="1" stop-color="#cc7205"/></radialGradient><radialGradient id="f1g10" cx="0.6" cy="0.6" r="0.55" fx="0.6" fy="0.6"><stop offset="0" stop-color="#edd439"/><stop offset="1" stop-color="#c07020"/></radialGradient><radialGradient id="f1g11" cx="0.75" cy="0.3" r="0.7" fx="0.75" fy="0.3"><stop offset="0" stop-color="#cc8028"/><stop offset="1" stop-color="#a85020"/></radialGradient><radialGradient id="f1g13" cx="0.55" cy="0.7" r="0.5" fx="0.55" fy="0.7"><stop offset="0" stop-color="#fffbe8"/><stop offset="1" stop-color="#dcab15"/></radialGradient><radialGradient id="f1g14" cx="0.7" cy="0.5" r="0.6" fx="0.7" fy="0.5"><stop offset="0" stop-color="#dc8d0b"/><stop offset="1" stop-color="#c07020"/></radialGradient><radialGradient id="f1g16" cx="0.55" cy="0.45" r="0.6" fx="0.55" fy="0.45"><stop offset="0" stop-color="#e7c627"/><stop offset="1" stop-color="#c47407"/></radialGradient><radialGradient id="f1g17" cx="0.4" cy="0.3" r="0.65" fx="0.4" fy="0.3"><stop offset="0" stop-color="#e0be1e"/><stop offset="1" stop-color="#b86820"/></radialGradient><radialGradient id="f1g18" cx="0.55" cy="0.5" r="0.55" fx="0.55" fy="0.5"><stop offset="0" stop-color="#fffbe8"/><stop offset="1" stop-color="#d4980d"/></radialGradient><radialGradient id="f1g19" cx="0.62" cy="0.5" r="0.62" fx="0.62" fy="0.5"><stop offset="0" stop-color="#ffffff"/><stop offset="0.45" stop-color="#fffce8"/><stop offset="0.75" stop-color="#edcf2f"/><stop offset="1" stop-color="#d4980d"/></radialGradient><radialGradient id="f1g20" cx="0.6" cy="0.5" r="0.6" fx="0.6" fy="0.5"><stop offset="0" stop-color="#ffffff"/><stop offset="0.3" stop-color="#fffce0"/><stop offset="0.6" stop-color="#e9cb26"/><stop offset="1" stop-color="#cc8605"/></radialGradient><radialGradient id="f1g21" cx="0.5" cy="0.45" r="0.6" fx="0.5" fy="0.45"><stop offset="0" stop-color="#e0b41e"/><stop offset="1" stop-color="#cc7205"/></radialGradient><radialGradient id="f1g22" cx="0.45" cy="0.6" r="0.55" fx="0.45" fy="0.6"><stop offset="0" stop-color="#fffbe0"/><stop offset="1" stop-color="#d4850d"/></radialGradient><radialGradient id="f1g23" cx="0.6" cy="0.5" r="0.6" fx="0.6" fy="0.5"><stop offset="0" stop-color="#edd439"/><stop offset="1" stop-color="#d4980d"/></radialGradient><radialGradient id="f1g25" cx="0.5" cy="0.5" r="0.6" fx="0.5" fy="0.5"><stop offset="0" stop-color="#e7cb27"/><stop offset="1" stop-color="#cc860f"/></radialGradient><radialGradient id="f1g26" cx="0.5" cy="0.5" r="0.6" fx="0.5" fy="0.5"><stop offset="0" stop-color="#e0b41e"/><stop offset="1" stop-color="#cc7205"/></radialGradient><radialGradient id="f1g28" cx="0.5" cy="0.5" r="0.6" fx="0.5" fy="0.5"><stop offset="0" stop-color="#e4bd1d"/><stop offset="1" stop-color="#d4850d"/></radialGradient><radialGradient id="f1g29" cx="0.5" cy="0.5" r="0.6" fx="0.5" fy="0.5"><stop offset="0" stop-color="#c87828"/><stop offset="1" stop-color="#b05a20"/></radialGradient></defs><g filter="url(#f1)"><rect x="-4.5" y="618.2" width="305.2" height="303.4" fill="#420e5c"/><polygon points="35.0,626.0 52.0,626.0 52.0,680.0 39.0,682.0" fill="#0e0614"/><polygon points="44.0,770.0 54.0,770.0 50.0,815.0 28.0,824.0 24.0,816.0 43.0,803.0" fill="#0e0614"/><polygon points="186.0,710.0 216.0,708.0 214.0,760.0 206.0,790.0 190.0,792.0" fill="#0e0614"/><polygon points="141.0,791.0 184.0,791.0 163.0,842.0 151.0,874.0 132.0,874.0 138.0,840.0" fill="#0e0614"/><polygon points="255.0,642.0 270.0,642.0 273.0,722.0 259.0,724.0" fill="#0e0614"/><polygon points="146.0,897.0 212.0,897.0 212.0,914.0 146.0,914.0" fill="#1a0828"/><polygon points="46.0,757.0 62.0,757.0 62.0,772.0 46.0,772.0" fill="#0e0614"/><polygon points="258.0,858.0 271.0,858.0 271.0,914.0 258.0,914.0" fill="#2a0a40"/><polygon points="1.0,623.7 39.1,623.7 36.8,650.6 20.0,662.9 1.0,665.1" fill="url(#f1g8)" stroke="#50126a" stroke-width="3.2" stroke-linejoin="round"/><ellipse cx="15" cy="688" rx="14.560000000000002" ry="28.000000000000004" fill="url(#f1g9)" stroke="#50126a" stroke-width="3.2" stroke-linejoin="round"/><ellipse cx="85" cy="664" rx="36.96" ry="43.68000000000001" fill="url(#f1g10)" stroke="#50126a" stroke-width="3.2" stroke-linejoin="round"/><polygon points="115.9,619.5 241.3,619.5 243.6,702.4 214.5,715.9 189.8,718.1 167.4,706.9 147.3,693.5 122.6,685.6 113.7,657.6" fill="url(#f1g11)" stroke="#50126a" stroke-width="3.2" stroke-linejoin="round"/><polygon points="219.9,625.2 296.1,625.2 296.1,642.0 219.9,639.7" fill="#d4850d"/><polygon points="233.7,637.9 252.7,634.5 259.5,669.2 259.5,710.7 239.3,714.0 230.3,691.6" fill="url(#f1g13)" stroke="#50126a" stroke-width="3.2" stroke-linejoin="round"/><polygon points="270.9,632.7 293.3,632.7 293.3,781.6 276.5,781.6 270.9,723.4" fill="url(#f1g14)" stroke="#50126a" stroke-width="3.2" stroke-linejoin="round"/><ellipse cx="52" cy="700" rx="26.880000000000003" ry="15.680000000000001" fill="#8a3848"/><ellipse cx="45" cy="735" rx="30.240000000000002" ry="28.000000000000004" fill="url(#f1g16)" stroke="#50126a" stroke-width="3.2" stroke-linejoin="round"/><ellipse cx="145" cy="737" rx="61.60000000000001" ry="61.60000000000001" fill="url(#f1g17)" stroke="#50126a" stroke-width="3.2" stroke-linejoin="round"/><ellipse cx="240" cy="738" rx="23.520000000000003" ry="36.96" fill="url(#f1g18)" stroke="#50126a" stroke-width="3.2" stroke-linejoin="round"/><polygon points="57.1,749.3 99.6,744.8 127.6,762.7 143.3,789.6 143.3,844.5 132.1,872.5 99.6,875.8 69.4,856.8 55.9,812.0" fill="url(#f1g19)" stroke="#50126a" stroke-width="3.2" stroke-linejoin="round"/><ellipse cx="185" cy="850" rx="29.120000000000005" ry="47.040000000000006" fill="url(#f1g20)" transform="rotate(15 185 850)" stroke="#50126a" stroke-width="3.2" stroke-linejoin="round"/><polygon points="196.9,763.3 261.9,763.3 268.6,799.1 266.4,842.8 240.6,849.5 211.5,836.1 198.1,799.1" fill="url(#f1g21)" stroke="#50126a" stroke-width="3.2" stroke-linejoin="round"/><ellipse cx="241" cy="869" rx="21.28" ry="29.120000000000005" fill="url(#f1g22)" stroke="#50126a" stroke-width="3.2" stroke-linejoin="round"/><polygon points="264.4,792.0 293.5,792.0 293.5,867.1 265.5,864.8" fill="url(#f1g23)" stroke="#50126a" stroke-width="3.2" stroke-linejoin="round"/><polygon points="271.9,862.1 293.1,862.1 293.1,916.9 271.9,916.9" fill="#c07028"/><polygon points="19.4,821.0 59.7,816.5 101.1,846.7 112.3,881.5 109.0,919.5 21.6,919.5 13.8,870.3" fill="url(#f1g25)" stroke="#50126a" stroke-width="3.2" stroke-linejoin="round"/><ellipse cx="13" cy="855" rx="11.200000000000001" ry="43.68000000000001" fill="url(#f1g26)" stroke="#50126a" stroke-width="3.2" stroke-linejoin="round"/><ellipse cx="100" cy="903" rx="21.28" ry="14.560000000000002" fill="#d48e0d"/><ellipse cx="134" cy="893" rx="17.92" ry="22.400000000000002" fill="url(#f1g28)" stroke="#50126a" stroke-width="3.2" stroke-linejoin="round"/><ellipse cx="26" cy="790" rx="23.520000000000003" ry="25.76" fill="url(#f1g29)" stroke="#50126a" stroke-width="3.2" stroke-linejoin="round"/><polygon points="211.4,899.2 260.6,899.2 260.6,914.8 211.4,914.8" fill="#c07028"/><ellipse cx="280" cy="710" rx="6.720000000000001" ry="7.840000000000001" fill="#f5e169"/><ellipse cx="280" cy="758" rx="10.080000000000002" ry="13.440000000000001" fill="#edd439"/></g><rect x="8.0" y="630.7" width="280.2" height="278.4" fill="none" stroke="#5a4a48" stroke-width="1" opacity="0.75"/></svg><svg style="position:absolute;left:359.5px;top:629.3px" width="277.5" height="276" viewBox="359.5 629.3 277.5 276"><defs><filter id="f2" x="-10%" y="-10%" width="120%" height="120%"><feGaussianBlur stdDeviation="5"/></filter></defs><g filter="url(#f2)"><rect x="347.5" y="617.3" width="301.5" height="300" fill="#a3764a"/><ellipse cx="440" cy="648" rx="38" ry="16" fill="#946233"/><ellipse cx="495" cy="722" rx="56" ry="40" fill="#b0875e"/><ellipse cx="369" cy="697" rx="12" ry="27" fill="#784725"/><ellipse cx="430" cy="722" rx="16" ry="42" fill="#87542f"/><ellipse cx="418" cy="752" rx="15" ry="18" fill="#7b4a27"/><ellipse cx="545" cy="690" rx="34" ry="29" fill="#87542f"/><ellipse cx="552" cy="695" rx="18" ry="14" fill="#6c3d1b"/><ellipse cx="603" cy="690" rx="17" ry="23" fill="#87542f"/><ellipse cx="538" cy="822" rx="27" ry="36" fill="#84532d"/><ellipse cx="581" cy="858" rx="21" ry="30" fill="#683718"/><ellipse cx="583" cy="862" rx="13" ry="16" fill="#4c2310"/><polygon points="354.0,806.0 375.0,806.0 378.0,860.0 375.0,910.0 354.0,910.0" fill="#582912"/><ellipse cx="362" cy="885" rx="9" ry="25" fill="#391608"/><ellipse cx="534" cy="886" rx="18" ry="22" fill="#78431f"/><ellipse cx="420" cy="852" rx="40" ry="38" fill="#bb977b"/><ellipse cx="425" cy="862" rx="25" ry="22" fill="#c8a993"/><ellipse cx="380" cy="768" rx="22" ry="14" fill="#b89172"/><ellipse cx="560" cy="772" rx="28" ry="16" fill="#b89172"/><ellipse cx="630" cy="700" rx="8" ry="18" fill="#c4a185"/><polygon points="628.0,822.0 642.0,814.0 642.0,842.0 612.0,910.0 596.0,910.0" fill="#f6eeee"/><polyline points="463,629 467,673 455,690 440,700" fill="none" stroke="#ccae9d" stroke-width="5" stroke-linejoin="round" stroke-linecap="round"/><polyline points="467,673 494,690 550,710 553,735 580,760 620,745" fill="none" stroke="#c4a58d" stroke-width="4" stroke-linejoin="round" stroke-linecap="round"/><polyline points="400,763 440,765 480,784" fill="none" stroke="#c0a187" stroke-width="4" stroke-linejoin="round" stroke-linecap="round"/><polyline points="481,784 487,830 493,873" fill="none" stroke="#c8ab97" stroke-width="4" stroke-linejoin="round" stroke-linecap="round"/><polyline points="380,808 392,860 420,880 455,880 493,873" fill="none" stroke="#c4a58d" stroke-width="4" stroke-linejoin="round" stroke-linecap="round"/></g><filter id="f2n" x="0" y="0" width="100%" height="100%" color-interpolation-filters="sRGB"><feTurbulence type="fractalNoise" baseFrequency="0.03 0.45" numOctaves="2" seed="2"/><feColorMatrix type="matrix" values="0.33 0.33 0.33 0 0 0.33 0.33 0.33 0 0 0.33 0.33 0.33 0 0 0 0 0 0 1"/></filter><rect x="359.5" y="629.3" width="277.5" height="276" filter="url(#f2n)" opacity="0.25" style="mix-blend-mode:overlay"/><rect x="360.0" y="629.8" width="276.5" height="275" fill="none" stroke="#5a4a48" stroke-width="1" opacity="0.75"/></svg><svg style="position:absolute;left:7.2px;top:939.8px" width="283.3" height="282.5" viewBox="7.2 939.8 283.3 282.5"><defs><filter id="f3" x="-10%" y="-10%" width="120%" height="120%"><feGaussianBlur stdDeviation="2.3"/></filter><radialGradient id="f3g9" cx="0.5" cy="0.5" r="0.6" fx="0.5" fy="0.5"><stop offset="0" stop-color="#dca115"/><stop offset="1" stop-color="#c07020"/></radialGradient><radialGradient id="f3g10" cx="0.5" cy="0.5" r="0.6" fx="0.5" fy="0.5"><stop offset="0" stop-color="#e9d030"/><stop offset="1" stop-color="#cc860f"/></radialGradient><radialGradient id="f3g11" cx="0.5" cy="0.5" r="0.6" fx="0.5" fy="0.5"><stop offset="0" stop-color="#e0be1e"/><stop offset="1" stop-color="#cc7205"/></radialGradient><radialGradient id="f3g12" cx="0.5" cy="0.5" r="0.6" fx="0.5" fy="0.5"><stop offset="0" stop-color="#cc7205"/><stop offset="1" stop-color="#b05a24"/></radialGradient><radialGradient id="f3g13" cx="0.5" cy="0.5" r="0.6" fx="0.5" fy="0.5"><stop offset="0" stop-color="#d4850d"/><stop offset="1" stop-color="#b86020"/></radialGradient><radialGradient id="f3g14" cx="0.6" cy="0.6" r="0.6" fx="0.6" fy="0.6"><stop offset="0" stop-color="#e4c727"/><stop offset="1" stop-color="#c07020"/></radialGradient><radialGradient id="f3g15" cx="0.5" cy="0.5" r="0.6" fx="0.5" fy="0.5"><stop offset="0" stop-color="#dca115"/><stop offset="1" stop-color="#c07020"/></radialGradient><radialGradient id="f3g16" cx="0.55" cy="0.45" r="0.6" fx="0.55" fy="0.45"><stop offset="0" stop-color="#e9cb26"/><stop offset="1" stop-color="#cc7205"/></radialGradient><radialGradient id="f3g17" cx="0.5" cy="0.35" r="0.6" fx="0.5" fy="0.35"><stop offset="0" stop-color="#ffffff"/><stop offset="0.35" stop-color="#fffbe0"/><stop offset="0.7" stop-color="#e9cb26"/><stop offset="1" stop-color="#cc8605"/></radialGradient><radialGradient id="f3g18" cx="0.5" cy="0.5" r="0.6" fx="0.5" fy="0.5"><stop offset="0" stop-color="#fffbe8"/><stop offset="0.5" stop-color="#edd439"/><stop offset="1" stop-color="#d4980d"/></radialGradient><radialGradient id="f3g19" cx="0.5" cy="0.7" r="0.6" fx="0.5" fy="0.7"><stop offset="0" stop-color="#ffffff"/><stop offset="0.3" stop-color="#fffbe0"/><stop offset="0.65" stop-color="#e9cb26"/><stop offset="1" stop-color="#cc8605"/></radialGradient><radialGradient id="f3g20" cx="0.5" cy="0.5" r="0.6" fx="0.5" fy="0.5"><stop offset="0" stop-color="#cc8028"/><stop offset="1" stop-color="#b05a20"/></radialGradient><radialGradient id="f3g21" cx="0.5" cy="0.5" r="0.7" fx="0.5" fy="0.5"><stop offset="0" stop-color="#c88030"/><stop offset="1" stop-color="#a85424"/></radialGradient><radialGradient id="f3g22" cx="0.5" cy="0.5" r="0.6" fx="0.5" fy="0.5"><stop offset="0" stop-color="#e0b41e"/><stop offset="1" stop-color="#c47407"/></radialGradient><radialGradient id="f3g24" cx="0.5" cy="0.5" r="0.6" fx="0.5" fy="0.5"><stop offset="0" stop-color="#d4850d"/><stop offset="1" stop-color="#b86020"/></radialGradient><radialGradient id="f3g25" cx="0.4" cy="0.5" r="0.6" fx="0.4" fy="0.5"><stop offset="0" stop-color="#fffbe8"/><stop offset="0.5" stop-color="#e9cb26"/><stop offset="1" stop-color="#cc7205"/></radialGradient><radialGradient id="f3g26" cx="0.4" cy="0.3" r="0.7" fx="0.4" fy="0.3"><stop offset="0" stop-color="#d4980d"/><stop offset="1" stop-color="#c07028"/></radialGradient><radialGradient id="f3g30" cx="0.5" cy="0.5" r="0.6" fx="0.5" fy="0.5"><stop offset="0" stop-color="#edcf2f"/><stop offset="1" stop-color="#cc8605"/></radialGradient><radialGradient id="f3g31" cx="0.5" cy="0.5" r="0.6" fx="0.5" fy="0.5"><stop offset="0" stop-color="#c88030"/><stop offset="1" stop-color="#b05a24"/></radialGradient><radialGradient id="f3g32" cx="0.5" cy="0.5" r="0.6" fx="0.5" fy="0.5"><stop offset="0" stop-color="#c88030"/><stop offset="1" stop-color="#b05a24"/></radialGradient><radialGradient id="f3g33" cx="0.5" cy="0.5" r="0.6" fx="0.5" fy="0.5"><stop offset="0" stop-color="#e9cb26"/><stop offset="1" stop-color="#cc8605"/></radialGradient><radialGradient id="f3g34" cx="0.5" cy="0.5" r="0.6" fx="0.5" fy="0.5"><stop offset="0" stop-color="#e9cb26"/><stop offset="1" stop-color="#cc8605"/></radialGradient><radialGradient id="f3g35" cx="0.5" cy="0.5" r="0.6" fx="0.5" fy="0.5"><stop offset="0" stop-color="#e9cb26"/><stop offset="1" stop-color="#cc8605"/></radialGradient><radialGradient id="f3g36" cx="0.5" cy="0.5" r="0.6" fx="0.5" fy="0.5"><stop offset="0" stop-color="#e4c727"/><stop offset="1" stop-color="#cc8605"/></radialGradient><radialGradient id="f3g37" cx="0.5" cy="0.6" r="0.6" fx="0.5" fy="0.6"><stop offset="0" stop-color="#ffffff"/><stop offset="0.4" stop-color="#fffce8"/><stop offset="0.75" stop-color="#e9cb26"/><stop offset="1" stop-color="#cc8605"/></radialGradient><radialGradient id="f3g38" cx="0.5" cy="0.5" r="0.6" fx="0.5" fy="0.5"><stop offset="0" stop-color="#d4850d"/><stop offset="1" stop-color="#b86020"/></radialGradient><radialGradient id="f3g40" cx="0.75" cy="0.6" r="0.6" fx="0.75" fy="0.6"><stop offset="0" stop-color="#ffffff"/><stop offset="0.4" stop-color="#f9ea7c"/><stop offset="1" stop-color="#d4980d"/></radialGradient><radialGradient id="f3g41" cx="0.5" cy="0.5" r="0.6" fx="0.5" fy="0.5"><stop offset="0" stop-color="#dca10b"/><stop offset="1" stop-color="#c07028"/></radialGradient></defs><g filter="url(#f3)"><rect x="-4.8" y="927.8" width="307.3" height="306.5" fill="#420e5c"/><polygon points="36.0,1083.0 56.0,1083.0 52.0,1120.0 45.0,1185.0 38.0,1185.0 36.0,1133.0" fill="#0e0614"/><polygon points="186.0,1093.0 203.0,1093.0 200.0,1131.0 188.0,1131.0" fill="#0e0614"/><polygon points="156.0,1100.0 200.0,1100.0 196.0,1135.0 160.0,1135.0" fill="#200a38"/><polygon points="146.0,1197.0 174.0,1197.0 174.0,1226.0 146.0,1226.0" fill="#0e0614"/><polygon points="255.0,990.0 270.0,990.0 268.0,1048.0 256.0,1048.0" fill="#0e0614"/><polygon points="265.0,936.0 282.0,936.0 280.0,988.0 266.0,988.0" fill="#200a38"/><ellipse cx="54.7" cy="998" rx="12" ry="14" fill="#2a0a50"/><ellipse cx="92" cy="1195" rx="6" ry="6" fill="#0e0614"/><polygon points="32.0,1085.0 61.0,1085.0 58.0,1114.0 34.0,1114.0" fill="#0e0614"/><polygon points="-1.4,933.5 64.7,933.5 60.1,961.3 29.9,967.1 -1.4,963.6" fill="url(#f3g9)" stroke="#50126a" stroke-width="3.2" stroke-linejoin="round"/><ellipse cx="40" cy="983" rx="16.24" ry="13.919999999999998" fill="url(#f3g10)" stroke="#50126a" stroke-width="3.2" stroke-linejoin="round"/><ellipse cx="19" cy="1014" rx="15.079999999999998" ry="33.64" fill="url(#f3g11)" stroke="#50126a" stroke-width="3.2" stroke-linejoin="round"/><ellipse cx="88" cy="952" rx="18.56" ry="16.24" fill="url(#f3g12)" stroke="#50126a" stroke-width="3.2" stroke-linejoin="round"/><polygon points="110.4,933.6 163.8,933.6 161.4,967.2 110.4,970.7" fill="url(#f3g13)" stroke="#50126a" stroke-width="3.2" stroke-linejoin="round"/><ellipse cx="100" cy="1003" rx="39.44" ry="22.04" fill="url(#f3g14)" transform="rotate(-20 100 1003)" stroke="#50126a" stroke-width="3.2" stroke-linejoin="round"/><ellipse cx="144" cy="994" rx="23.2" ry="33.64" fill="url(#f3g15)" stroke="#50126a" stroke-width="3.2" stroke-linejoin="round"/><polygon points="161.0,957.8 215.5,953.1 227.1,990.3 207.4,1019.3 169.1,1019.3 159.8,990.3" fill="url(#f3g16)" stroke="#50126a" stroke-width="3.2" stroke-linejoin="round"/><ellipse cx="239" cy="968" rx="28.999999999999996" ry="35.96" fill="url(#f3g17)" stroke="#50126a" stroke-width="3.2" stroke-linejoin="round"/><ellipse cx="280" cy="1015" rx="15.079999999999998" ry="34.8" fill="url(#f3g18)" stroke="#50126a" stroke-width="3.2" stroke-linejoin="round"/><polygon points="202.8,998.6 242.3,996.3 251.5,1038.1 248.1,1084.5 230.7,1100.7 207.5,1096.1 198.2,1049.7" fill="url(#f3g19)" stroke="#50126a" stroke-width="3.2" stroke-linejoin="round"/><ellipse cx="179" cy="1040" rx="25.52" ry="27.839999999999996" fill="url(#f3g20)" stroke="#50126a" stroke-width="3.2" stroke-linejoin="round"/><polygon points="22.8,1020.0 101.7,1016.5 153.9,1025.8 159.7,1066.4 148.1,1095.4 78.5,1093.1 32.1,1083.8 20.5,1049.0" fill="url(#f3g21)" stroke="#50126a" stroke-width="3.2" stroke-linejoin="round"/><ellipse cx="166" cy="1083" rx="40.599999999999994" ry="16.24" fill="url(#f3g22)" stroke="#50126a" stroke-width="3.2" stroke-linejoin="round"/><ellipse cx="18" cy="1083" rx="12.76" ry="16.24" fill="#e0be1e"/><ellipse cx="18" cy="1140" rx="13.919999999999998" ry="28.999999999999996" fill="url(#f3g24)" stroke="#50126a" stroke-width="3.2" stroke-linejoin="round"/><ellipse cx="18" cy="1198" rx="13.919999999999998" ry="28.999999999999996" fill="url(#f3g25)" stroke="#50126a" stroke-width="3.2" stroke-linejoin="round"/><polygon points="54.2,1082.2 112.2,1079.9 152.8,1093.8 156.3,1151.8 147.0,1192.4 100.6,1198.2 54.2,1193.6 42.6,1151.8 44.9,1105.4" fill="url(#f3g26)" stroke="#50126a" stroke-width="3.2" stroke-linejoin="round"/><ellipse cx="92" cy="1116" rx="34.8" ry="28.999999999999996" fill="#e0be1e"/><ellipse cx="91" cy="1116" rx="25.52" ry="22.04" fill="#f1dd4c"/><polygon points="66.7,1097.5 101.5,1092.9 114.3,1111.4 109.6,1134.6 85.3,1136.9 66.7,1120.7" fill="#fffbe8"/><ellipse cx="224" cy="1120" rx="22.04" ry="33.64" fill="url(#f3g30)" stroke="#50126a" stroke-width="3.2" stroke-linejoin="round"/><ellipse cx="284" cy="1092" rx="13.919999999999998" ry="34.8" fill="url(#f3g31)" stroke="#50126a" stroke-width="3.2" stroke-linejoin="round"/><ellipse cx="284" cy="1150" rx="11.6" ry="25.52" fill="url(#f3g32)" stroke="#50126a" stroke-width="3.2" stroke-linejoin="round"/><ellipse cx="258" cy="1137" rx="22.04" ry="27.839999999999996" fill="url(#f3g33)" stroke="#50126a" stroke-width="3.2" stroke-linejoin="round"/><ellipse cx="193" cy="1149" rx="20.88" ry="22.04" fill="url(#f3g34)" stroke="#50126a" stroke-width="3.2" stroke-linejoin="round"/><ellipse cx="222" cy="1166" rx="20.88" ry="20.88" fill="url(#f3g35)" stroke="#50126a" stroke-width="3.2" stroke-linejoin="round"/><ellipse cx="164" cy="1175" rx="23.2" ry="17.4" fill="url(#f3g36)" stroke="#50126a" stroke-width="3.2" stroke-linejoin="round"/><ellipse cx="117" cy="1203" rx="31.319999999999997" ry="27.839999999999996" fill="url(#f3g37)" stroke="#50126a" stroke-width="3.2" stroke-linejoin="round"/><ellipse cx="183" cy="1203" rx="20.88" ry="23.2" fill="url(#f3g38)" stroke="#50126a" stroke-width="3.2" stroke-linejoin="round"/><ellipse cx="75" cy="1207" rx="17.4" ry="17.4" fill="#8a3a50"/><polygon points="234.8,1161.4 296.2,1154.5 296.2,1231.0 234.8,1231.0" fill="url(#f3g40)" stroke="#50126a" stroke-width="3.2" stroke-linejoin="round"/><ellipse cx="265" cy="1172" rx="15.079999999999998" ry="12.76" fill="url(#f3g41)" stroke="#50126a" stroke-width="3.2" stroke-linejoin="round"/></g><rect x="7.7" y="940.3" width="282.3" height="281.5" fill="none" stroke="#5a4a48" stroke-width="1" opacity="0.75"/></svg><svg style="position:absolute;left:359.7px;top:941.1px" width="278.4" height="278.6" viewBox="359.7 941.1 278.4 278.6"><defs><filter id="f4" x="-10%" y="-10%" width="120%" height="120%"><feGaussianBlur stdDeviation="5.5"/></filter></defs><g filter="url(#f4)"><rect x="347.7" y="929.1" width="302.4" height="302.6" fill="#a17649"/><ellipse cx="441" cy="1039" rx="42" ry="37" fill="#a5784c"/><ellipse cx="395" cy="978" rx="24" ry="16" fill="#83522b"/><ellipse cx="541" cy="1040" rx="35" ry="40" fill="#83522b"/><ellipse cx="541" cy="1045" rx="22" ry="26" fill="#74431f"/><ellipse cx="592" cy="988" rx="15" ry="13" fill="#83522b"/><ellipse cx="510" cy="1090" rx="32" ry="12" fill="#784721"/><ellipse cx="432" cy="1114" rx="24" ry="19" fill="#87562b"/><ellipse cx="398" cy="1080" rx="12" ry="9" fill="#83522b"/><ellipse cx="468" cy="1165" rx="33" ry="28" fill="#83522b"/><ellipse cx="604" cy="1142" rx="18" ry="32" fill="#83522b"/><ellipse cx="365" cy="1023" rx="8" ry="42" fill="#784721"/><ellipse cx="498" cy="994" rx="18" ry="30" fill="#936237"/><ellipse cx="557" cy="1129" rx="24" ry="26" fill="#936237"/><ellipse cx="510" cy="955" rx="15" ry="12" fill="#936237"/><ellipse cx="620" cy="1200" rx="20" ry="20" fill="#8b5a2f"/><ellipse cx="440" cy="1205" rx="40" ry="14" fill="#936237"/><ellipse cx="630" cy="970" rx="10" ry="25" fill="#8b5a2f"/><ellipse cx="573" cy="1082" rx="14" ry="6" fill="#d8c4b8"/><polyline points="396,994 416,986 465,982 482,994" fill="none" stroke="#b68f70" stroke-width="6" stroke-linejoin="round" stroke-linecap="round"/><polyline points="482,994 494,1023 506,1055 494,1076" fill="none" stroke="#b68f70" stroke-width="6" stroke-linejoin="round" stroke-linecap="round"/><polyline points="359,1080 400,1076 433,1088 465,1084 494,1076" fill="none" stroke="#b68f70" stroke-width="6" stroke-linejoin="round" stroke-linecap="round"/><polyline points="580,1076 604,1055 620.6,1023 612.5,982 588,965.5" fill="none" stroke="#b68f70" stroke-width="6" stroke-linejoin="round" stroke-linecap="round"/><polyline points="391.7,1088 387.6,1121 383.5,1170 391.7,1194.5" fill="none" stroke="#c09f83" stroke-width="6" stroke-linejoin="round" stroke-linecap="round"/><polyline points="453,1088 465,1113 481.6,1137" fill="none" stroke="#b68f70" stroke-width="5" stroke-linejoin="round" stroke-linecap="round"/><polyline points="522.5,1096 539,1121 551,1145 530.7,1170 514,1194.5" fill="none" stroke="#b68f70" stroke-width="6" stroke-linejoin="round" stroke-linecap="round"/><polyline points="551,1145 580,1133 596,1108.6 588,1080" fill="none" stroke="#b68f70" stroke-width="5" stroke-linejoin="round" stroke-linecap="round"/><polyline points="555,941 563,965.5 588,965.5" fill="none" stroke="#b68f70" stroke-width="5" stroke-linejoin="round" stroke-linecap="round"/><polyline points="461,941 469,965.5 482,994" fill="none" stroke="#b68f70" stroke-width="5" stroke-linejoin="round" stroke-linecap="round"/><polyline points="494,1076 522.5,1096" fill="none" stroke="#b68f70" stroke-width="5" stroke-linejoin="round" stroke-linecap="round"/><polyline points="506,1055 530,1062 560,1070 580,1076" fill="none" stroke="#bc9d7d" stroke-width="3" stroke-linejoin="round" stroke-linecap="round"/></g><filter id="f4n" x="0" y="0" width="100%" height="100%" color-interpolation-filters="sRGB"><feTurbulence type="fractalNoise" baseFrequency="0.03 0.45" numOctaves="2" seed="2"/><feColorMatrix type="matrix" values="0.33 0.33 0.33 0 0 0.33 0.33 0.33 0 0 0.33 0.33 0.33 0 0 0 0 0 0 1"/></filter><rect x="359.7" y="941.1" width="278.4" height="278.6" filter="url(#f4n)" opacity="0.25" style="mix-blend-mode:overlay"/><rect x="360.2" y="941.6" width="277.4" height="277.6" fill="none" stroke="#5a4a48" stroke-width="1" opacity="0.75"/></svg><div style="position:absolute;left:295.8px;top:666.2px;width:38.19999999999999px;height:235.5px;box-sizing:border-box;border:1px solid #8a8a8a;background:linear-gradient(to bottom,#f6f2b8 0%,#ece070 10%,#dcc030 25%,#cc9020 40%,#c46a22 50%,#b24a3a 58%,#8e2a5e 68%,#5c1070 80%,#2a0a58 92%,#080418 100%)"></div><div style="position:absolute;left:284.9px;width:60px;text-align:center;top:653.3px;font-size:11.5px;line-height:1;color:#505050">nm</div><div style="position:absolute;left:284.9px;width:60px;text-align:center;top:668.6px;font-size:12px;line-height:1;color:#404040">15.0</div><div style="position:absolute;left:284.9px;width:60px;text-align:center;top:779.5px;font-size:12px;line-height:1;color:#f4d8c8">0.00</div><div style="position:absolute;left:284.9px;width:60px;text-align:center;top:890.4px;font-size:12px;line-height:1;color:#d8d8e0">-15.0</div><div style="position:absolute;left:645.3px;top:665.3px;width:37.700000000000045px;height:233.30000000000007px;box-sizing:border-box;border:1px solid #8a8a8a;background:linear-gradient(to bottom,#f4f0f0 0%,#e4d2cc 15%,#cfb0a0 30%,#b88a68 45%,#a87040 55%,#8a4c1c 68%,#5e2408 82%,#0c0000 100%)"></div><div style="position:absolute;left:634.15px;width:60px;text-align:center;top:652px;font-size:11.5px;line-height:1;color:#505050">mV</div><div style="position:absolute;left:634.15px;width:60px;text-align:center;top:667.5px;font-size:12px;line-height:1;color:#404040">-269</div><div style="position:absolute;left:634.15px;width:60px;text-align:center;top:777px;font-size:12px;line-height:1;color:#f0e0d0">-319</div><div style="position:absolute;left:634.15px;width:60px;text-align:center;top:886.8px;font-size:12px;line-height:1;color:#d8d0d0">-370</div><div style="position:absolute;left:296.4px;top:976.5px;width:37.5px;height:238.70000000000005px;box-sizing:border-box;border:1px solid #8a8a8a;background:linear-gradient(to bottom,#f6f2b8 0%,#ece070 10%,#dcc030 25%,#cc9020 40%,#c46a22 50%,#b24a3a 58%,#8e2a5e 68%,#5c1070 80%,#2a0a58 92%,#080418 100%)"></div><div style="position:absolute;left:285.15px;width:60px;text-align:center;top:962.8px;font-size:11.5px;line-height:1;color:#505050">nm</div><div style="position:absolute;left:285.15px;width:60px;text-align:center;top:978.9px;font-size:12px;line-height:1;color:#404040">15.0</div><div style="position:absolute;left:285.15px;width:60px;text-align:center;top:1091.3px;font-size:12px;line-height:1;color:#f4d8c8">0.00</div><div style="position:absolute;left:285.15px;width:60px;text-align:center;top:1203.9px;font-size:12px;line-height:1;color:#d8d8e0">-15.0</div><div style="position:absolute;left:647.8px;top:978px;width:36.200000000000045px;height:236px;box-sizing:border-box;border:1px solid #8a8a8a;background:linear-gradient(to bottom,#f4f0f0 0%,#e4d2cc 15%,#cfb0a0 30%,#b88a68 45%,#a87040 55%,#8a4c1c 68%,#5e2408 82%,#0c0000 100%)"></div><div style="position:absolute;left:635.9px;width:60px;text-align:center;top:963.6px;font-size:11.5px;line-height:1;color:#505050">mV</div><div style="position:absolute;left:635.9px;width:60px;text-align:center;top:980.2px;font-size:12px;line-height:1;color:#404040">-358</div><div style="position:absolute;left:635.9px;width:60px;text-align:center;top:1091px;font-size:12px;line-height:1;color:#f0e0d0">-443</div><div style="position:absolute;left:635.9px;width:60px;text-align:center;top:1202.2px;font-size:12px;line-height:1;color:#d8d0d0">-528</div><div style="position:absolute;left:1px;top:914.6px;width:337px;height:1.2px;background:#a8a8a8"></div><div style="position:absolute;left:19.5px;top:642px;font-size:22px;font-weight:bold;line-height:1;color:#f4f068;white-space:nowrap">RMS=6.43 nm</div><div style="position:absolute;left:21.5px;top:952.5px;font-size:22px;font-weight:bold;line-height:1;color:#ffff00;white-space:nowrap">RMS=5.42 nm</div><div style="position:absolute;left:374.8px;top:641.9px;font-size:21.6px;font-weight:bold;line-height:1;color:#ffff00;white-space:nowrap">WF=5.22 <span style="margin-left:2px">eV</span></div><div style="position:absolute;left:374.8px;top:951.9px;font-size:21.6px;font-weight:bold;line-height:1;color:#ffff00;white-space:nowrap">WF=5.34 <span style="margin-left:2px">eV</span></div><div style="position:absolute;left:18.4px;top:877px;font-size:27px;line-height:1;color:#fff;white-space:nowrap"><span style="letter-spacing:3.4px">i</span>)</div><div style="position:absolute;left:370.5px;top:874px;font-size:27px;line-height:1;color:#fff;white-space:nowrap"><span style="letter-spacing:1.7px">ii</span>)</div><div style="position:absolute;left:17.8px;top:1191px;font-size:27px;line-height:1;color:#fff;white-space:nowrap"><span style="letter-spacing:1.5px">iii</span>)</div><div style="position:absolute;left:370.5px;top:1188px;font-size:27px;line-height:1;color:#fff;white-space:nowrap"><span style="letter-spacing:2.9px">iv</span>)</div><div style="position:absolute;left:212.8px;top:879.2px;width:56.599999999999966px;height:4.699999999999932px;background:#fff;box-sizing:border-box;outline:1.2px solid #303030"></div><div style="position:absolute;left:219.5px;top:887.5px;font-size:13.5px;font-weight:bold;line-height:1;color:#fff;text-shadow:-1px -1px 0 #222,1px -1px 0 #222,-1px 1px 0 #222,1px 1px 0 #222,0 1px 1px #222,0 -1px 1px #222;white-space:nowrap">200nm</div><div style="position:absolute;left:561.2px;top:875px;width:57.09999999999991px;height:5.7000000000000455px;background:#fff;box-sizing:border-box;outline:1.2px solid #303030"></div><div style="position:absolute;left:568.2px;top:884px;font-size:13.5px;font-weight:bold;line-height:1;color:#fff;text-shadow:-1px -1px 0 #222,1px -1px 0 #222,-1px 1px 0 #222,1px 1px 0 #222,0 1px 1px #222,0 -1px 1px #222;white-space:nowrap">200nm</div><div style="position:absolute;left:213.7px;top:1192.5px;width:55.69999999999999px;height:4.400000000000091px;background:#fff;box-sizing:border-box;outline:1.2px solid #303030"></div><div style="position:absolute;left:220.8px;top:1199.5px;font-size:13.5px;font-weight:bold;line-height:1;color:#fff;text-shadow:-1px -1px 0 #222,1px -1px 0 #222,-1px 1px 0 #222,1px 1px 0 #222,0 1px 1px #222,0 -1px 1px #222;white-space:nowrap">200nm</div><div style="position:absolute;left:562.2px;top:1189.8px;width:56.59999999999991px;height:4.900000000000091px;background:#fff;box-sizing:border-box;outline:1.2px solid #303030"></div><div style="position:absolute;left:569.6px;top:1197.5px;font-size:13.5px;font-weight:bold;line-height:1;color:#fff;text-shadow:-1px -1px 0 #222,1px -1px 0 #222,-1px 1px 0 #222,1px 1px 0 #222,0 1px 1px #222,0 -1px 1px #222;white-space:nowrap">200nm</div><svg style="position:absolute;left:0;top:0" width="685" height="1442"><line x1="359.5" y1="768.8" x2="637" y2="767.3" stroke="#e03a3a" stroke-width="1.1"/><line x1="359.5" y1="1084.8" x2="638" y2="1078.8" stroke="#e03a3a" stroke-width="1.1"/><rect x="358" y="765.5" width="4" height="6" fill="#3a3ae0"/><rect x="358" y="1081.5" width="4" height="6" fill="#3a3ae0"/></svg><svg style="position:absolute;left:0;top:1240px" width="685" height="202" viewBox="0 1240 685 202"><defs><radialGradient id="refl" cx="0.5" cy="0.45" r="0.6"><stop offset="0" stop-color="#f4f4f4"/><stop offset="0.6" stop-color="#e0e0e0"/><stop offset="1" stop-color="#9a9a9a"/></radialGradient><radialGradient id="refl2" cx="0.5" cy="0.4" r="0.6"><stop offset="0" stop-color="#d8d8d8"/><stop offset="0.7" stop-color="#c4c4c4"/><stop offset="1" stop-color="#808080"/></radialGradient></defs><path d="M43.4,1378.7 C70,1335 108,1322 155.4,1322 C203,1322 241,1335 267.3,1378.8 L259.5,1390 L47,1390 Z" fill="#000"/><path d="M43.4,1378.7 C70,1335 108,1322 155.4,1322 C203,1322 241,1335 267.3,1378.8" fill="none" stroke="#3aa8b0" stroke-width="1"/><ellipse cx="154.4" cy="1352.5" rx="28.9" ry="10.3" fill="url(#refl)"/><ellipse cx="154.4" cy="1369.5" rx="26.5" ry="6.8" fill="url(#refl2)"/><rect x="129" y="1362.3" width="51" height="2.6" fill="#404040"/><ellipse cx="155.3" cy="1390" rx="11.5" ry="4.2" fill="#fff"/><rect x="140" y="1390" width="30" height="8" fill="#fff"/><line x1="43.4" y1="1378.7" x2="267.3" y2="1378.7" stroke="#3aa8b0" stroke-width="1.6"/><line x1="34.5" y1="1378.7" x2="43.4" y2="1378.7" stroke="#c84040" stroke-width="1.4"/><line x1="267.3" y1="1378.8" x2="276" y2="1378.8" stroke="#c84040" stroke-width="1.4"/><line x1="36.4" y1="1389.8" x2="91.2" y2="1303.4" stroke="#3ab0b8" stroke-width="1.1"/><line x1="220.1" y1="1303.9" x2="274.8" y2="1390.4" stroke="#3ab0b8" stroke-width="1.1"/><line x1="43.4" y1="1370" x2="43.4" y2="1386" stroke="#405870" stroke-width="1.2"/><line x1="267.3" y1="1370" x2="267.3" y2="1386" stroke="#405870" stroke-width="1.2"/><path d="M405.5,1379 A99.9,96.3 0 0 1 605.3,1379 L605.3,1390.2 L536.4,1390.2 L536.4,1379 A29.65,27.3 0 0 0 477.1,1379 L477.1,1390.2 L405.5,1390.2 Z" fill="#000"/><path d="M405.5,1379 A99.9,96.3 0 0 1 605.3,1379" fill="none" stroke="#3aa8b0" stroke-width="0.9"/><line x1="385" y1="1379" x2="620.6" y2="1379" stroke="#d06060" stroke-width="1.3"/><line x1="405.5" y1="1379" x2="477.1" y2="1379" stroke="#3aa8b0" stroke-width="1.5"/><line x1="536.4" y1="1379" x2="605.3" y2="1379" stroke="#3aa8b0" stroke-width="1.5"/><line x1="403.5" y1="1281.2" x2="404" y2="1390.6" stroke="#3ab0b8" stroke-width="1.2"/><line x1="606.7" y1="1281.2" x2="606.2" y2="1390.6" stroke="#3ab0b8" stroke-width="1.2"/></svg><div style="position:absolute;left:129px;top:1270px;font-size:22.3px;line-height:1;white-space:nowrap">62.3<span style="font-size:12.5px;position:relative;top:-6.5px;margin-left:0.5px">o</span></div><div style="position:absolute;left:477px;top:1253.3px;font-size:22.3px;line-height:1;white-space:nowrap">90.5<span style="font-size:12.5px;position:relative;top:-6.5px;margin-left:0.5px">o</span></div><div style="position:absolute;left:114px;top:1415.5px;font-size:25.7px;line-height:1;white-space:nowrap">MAPbI<span style="font-size:17px;position:relative;top:5px">3</span></div><div style="position:absolute;left:454px;top:1417.4px;font-size:25.7px;line-height:1;white-space:nowrap">0.3 mol%</div>
<!--CONTACT-->
</body></html>
